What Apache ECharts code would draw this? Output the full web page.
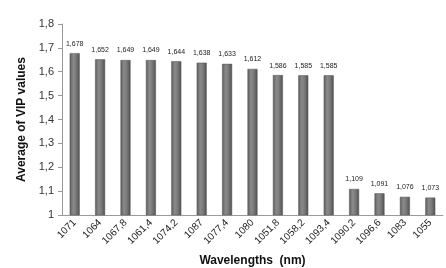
<!DOCTYPE html>
<html>
<head>
<meta charset="utf-8">
<script src="https://cdn.jsdelivr.net/npm/echarts@6/dist/echarts.min.js"></script>
<style>
  html, body { margin: 0; padding: 0; background: #fff; }
  #chart { width: 446px; height: 268px; }
</style>
</head>
<body>
<div id="chart"></div>
<script>
const wavelengths = ["1071", "1064", "1067,8", "1061,4", "1074,2", "1087", "1077,4", "1080",
  "1051,8", "1058,2", "1093,4", "1090,2", "1096,6", "1083", "1055"];
const vipValues = [1.678, 1.652, 1.649, 1.649, 1.644, 1.638, 1.633, 1.612,
  1.586, 1.585, 1.585, 1.109, 1.091, 1.076, 1.073];
const yTicks = [1, 1.1, 1.2, 1.3, 1.4, 1.5, 1.6, 1.7, 1.8];

const chart = echarts.init(document.getElementById("chart"));

// horizontal gradient to mimic the cylinder look
const barFill = new echarts.graphic.LinearGradient(0, 0, 1, 0, [
  { offset: 0, color: "#5c5c5c" },
  { offset: 0.35, color: "#8a8a8a" },
  { offset: 0.6, color: "#7c7c7c" },
  { offset: 1, color: "#505050" }
]);

const option = {
  animation: false,
  grid: { left: 62, right: 3, top: 24, bottom: 53, outerBoundsMode: "none", containLabel: false },
  xAxis: {
    type: "category",
    data: wavelengths,
    name: "Wavelengths  (nm)",
    nameLocation: "middle",
    nameGap: 40,
    nameTextStyle: { fontFamily: "Liberation Sans", fontWeight: "bold", fontSize: 12, color: "#111" },
    axisLine: { lineStyle: { color: "#9a9a9a" } },
    axisTick: { alignWithLabel: false, length: 4, lineStyle: { color: "#9a9a9a" } },
    axisLabel: {
      rotate: 45, interval: 0, fontSize: 10, color: "#222",
      fontFamily: "Liberation Sans", margin: 6
    }
  },
  yAxis: {
    type: "value",
    min: 1, max: 1.8, interval: 0.1,
    name: "Average of VIP values",
    nameLocation: "middle",
    nameGap: 34,
    nameTextStyle: { fontFamily: "Liberation Sans", fontWeight: "bold", fontSize: 12, color: "#111" },
    axisLine: { show: true, lineStyle: { color: "#9a9a9a" } },
    axisTick: { show: true, length: 4, lineStyle: { color: "#9a9a9a" } },
    splitLine: { show: false },
    axisLabel: {
      fontSize: 11, color: "#333", fontFamily: "Liberation Sans", margin: 8,
      formatter: v => {
        const t = yTicks.find(x => Math.abs(x - v) < 1e-6);
        return t === undefined ? "" : String(t).replace(".", ",");
      }
    }
  },
  series: [{
    type: "bar",
    data: vipValues,
    barWidth: 10,
    itemStyle: { color: barFill, borderColor: "#555", borderWidth: 0.5 },
    label: {
      show: true, position: "top", distance: 6,
      fontSize: 7, color: "#222", fontFamily: "Liberation Sans",
      formatter: p => p.value.toFixed(3).replace(".", ",")
    }
  }]
};

chart.setOption(option);
</script>
</body>
</html>
